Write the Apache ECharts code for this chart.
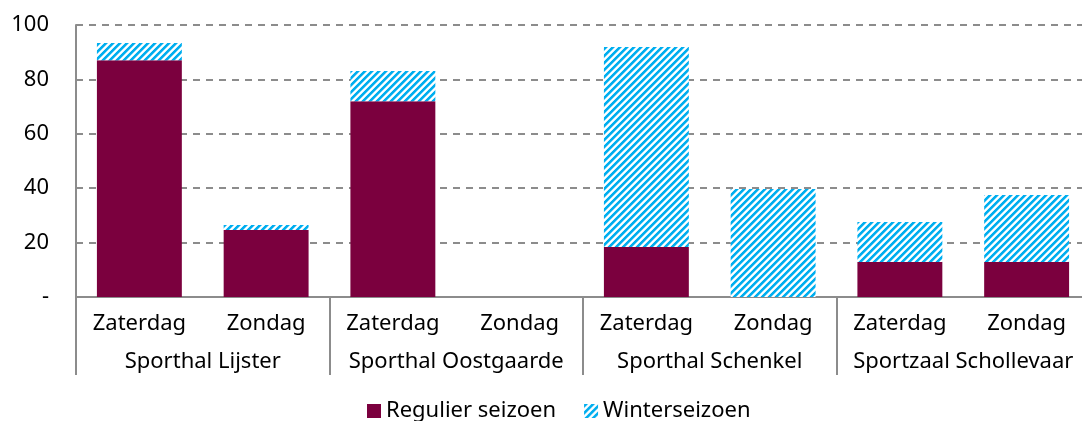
<!DOCTYPE html>
<html>
<head>
<meta charset="utf-8">
<script src="https://cdn.jsdelivr.net/npm/echarts@6/dist/echarts.min.js"></script>
<style>
  html, body { margin: 0; padding: 0; background: #fff; }
  #chart { width: 1082px; height: 421px; }
</style>
</head>
<body>
<div id="chart"></div>
<script>
// data
var days = ['Zaterdag', 'Zondag', 'Zaterdag', 'Zondag', 'Zaterdag', 'Zondag', 'Zaterdag', 'Zondag']
var halls = ['Sporthal Lijster', 'Sporthal Oostgaarde', 'Sporthal Schenkel', 'Sportzaal Schollevaar']
var regulier = [87, 24.6, 72, 0, 18.4, 0, 12.9, 12.9]
var winter = [6.4, 1.9, 11.1, 0, 73.5, 39.7, 14.7, 24.6]

var font = 'Noto Sans'
var maroon = '#7B003E'

// diagonal hatch for the winter series
function hatch () {
  var n = 7
  var c = document.createElement('canvas')
  c.width = n
  c.height = n
  var ctx = c.getContext('2d')
  for (var x = 0; x < n; x++) {
    for (var y = 0; y < n; y++) {
      var k = (x + y) % n
      ctx.fillStyle = k < 3 ? '#00AEEF' : (k === 3 ? '#80D6F7' : (k === 6 ? '#D0F0FC' : '#ffffff'))
      ctx.fillRect(x, y, 1, 1)
    }
  }
  return c
}

var chart = echarts.init(document.getElementById('chart'))
chart.setOption({
  animation: false,
  grid: { left: 76, right: -8, top: 25, bottom: 124, outerBoundsMode: 'none' },
  legend: {
    top: 395,
    left: 362,
    itemWidth: 14,
    itemHeight: 14,
    itemGap: 28,
    textStyle: { fontFamily: font, fontSize: 22, color: '#000' },
    data: [
      { name: 'Regulier seizoen', icon: 'rect' },
      { name: 'Winterseizoen', icon: 'rect' }
    ]
  },
  xAxis: [{
    type: 'category',
    data: days,
    axisLine: { lineStyle: { color: '#8c8c8c', width: 2 } },
    axisTick: { show: false },
    axisLabel: { interval: 0, margin: 16, fontFamily: font, fontSize: 22, color: '#000' }
  }, {
    type: 'category',
    data: halls,
    position: 'bottom',
    axisLine: { show: false },
    axisTick: { show: true, interval: 0, length: 78, lineStyle: { color: '#8c8c8c', width: 2 } },
    axisLabel: { interval: 0, margin: 54, fontFamily: font, fontSize: 22, color: '#000' }
  }],
  yAxis: {
    type: 'value',
    min: 0,
    max: 100,
    interval: 20,
    axisLine: { show: true, lineStyle: { color: '#8c8c8c', width: 2 } },
    axisTick: { show: false },
    splitLine: { lineStyle: { color: '#8c8c8c', width: 2, type: [7, 6] } },
    axisLabel: {
      margin: 27,
      fontFamily: font,
      fontSize: 22,
      color: '#000',
      formatter: function (v) { return v === 0 ? '-' : v }
    }
  },
  series: [{
    name: 'Regulier seizoen',
    type: 'bar',
    stack: 'a',
    barWidth: '67%',
    itemStyle: { color: maroon },
    data: regulier
  }, {
    name: 'Winterseizoen',
    type: 'bar',
    stack: 'a',
    barWidth: '67%',
    itemStyle: { color: { image: hatch(), repeat: 'repeat' } },
    data: winter
  }]
})
</script>
</body>
</html>
